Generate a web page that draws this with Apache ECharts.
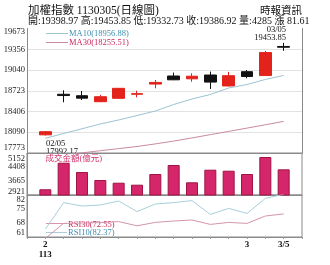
<!DOCTYPE html>
<html><head><meta charset="utf-8">
<script src="https://cdn.jsdelivr.net/npm/echarts@6/dist/echarts.min.js"></script>
<style>html,body{margin:0;padding:0;background:#fff}#c{width:330px;height:265px}</style>
</head><body><div id="c"></div>
<script>
// ---- data ----
const dates = ['02/05','02/15','02/16','02/19','02/20','02/21','02/22','02/23','02/26','02/27','02/29','03/01','03/04','03/05'];
const xTickLabels = ['2\n113','','','','','','','','','','','3','','3/5'];
const opens  = [18050, 18669, 18647, 18556, 18608, 18670, 18825, 18948, 18905, 18963, 18796, 19014, 18955, 19398.97];
const closes = [18098, 18650, 18610, 18632, 18760, 18678, 18850, 18890, 18945, 18855, 18953, 18940, 19305.31, 19386.92];
const lows   = [18040, 18547, 18582, 18550, 18600, 18623, 18760, 18885, 18861, 18750, 18790, 18913, 18950, 19332.73];
const highs  = [18105, 18730, 18719, 18660, 18765, 18724, 18887, 19000, 18990, 19015, 19012, 19040, 19330, 19453.85];
const ma10 = [17997, 18071, 18143, 18216, 18277, 18345, 18414, 18513, 18597, 18666, 18765, 18818, 18895, 18956.88];
const ma30 = [17710, 17742, 17775, 17808, 17840, 17872, 17912, 17955, 18003, 18053, 18103, 18153, 18204, 18255.51];
const volumes = [3224, 4636, 4142, 3718, 3574, 3468, 4036, 4514, 3595, 4265, 4211, 4036, 4939, 4285];
const rsi10 = [64.9, 78.2, 76.5, 77.0, 79.0, 73.7, 77.5, 78.2, 79.2, 72.3, 75.3, 72.8, 80.3, 82.37];
const rsi30 = [60.3, 67.8, 68.0, 68.2, 68.7, 66.6, 68.3, 69.0, 69.5, 67.3, 68.3, 67.8, 71.5, 72.55];
const priceTicks = [17773, 18090, 18406, 18723, 19040, 19356, 19673];
const volumeTicks = [2921, 3665, 4408, 5152];
const rsiTicks = [61, 68, 75, 82];
const minPoint = { date: '02/05', value: 17992.17 };
const maxPoint = { date: '03/05', value: 19453.85 };
const lastChange = 81.61;
const titleText = '加權指數 1130305(日線圖)';
const sourceText = '時報資訊';
const volumeLabel = '成交金額(億元)';

// ---- build ----
const SERIF = '"Liberation Serif","Noto Sans CJK TC",serif';
const pad = a => ['-', ...a, '-'];
const cats = pad(dates).map(d => d === '-' ? '' : d);
const xlab = pad(xTickLabels).map(d => d === '-' ? '' : d);
const candles = pad(dates.map((d, i) => [opens[i], closes[i], lows[i], highs[i]]));
candles[0] = ['-','-','-','-']; candles[candles.length-1] = ['-','-','-','-'];
const n = dates.length - 1;
const f2 = v => v.toFixed(2);
const infoText = '開:' + f2(opens[n]) + ' 高:' + f2(highs[n]) + ' 低:' + f2(lows[n]) + ' 收:' + f2(closes[n]) +
  ' 量:' + volumes[n] + ' 漲 ' + f2(lastChange);

const L = 27, R = 28;
const grids = [
  { left: L, right: R, top: 28.5, height: 124.5 },
  { left: L, right: R, top: 153, height: 42, show: true, borderColor: '#8a8a8a', borderWidth: 1 },
  { left: L, right: R, top: 195, height: 42, show: true, borderColor: '#8a8a8a', borderWidth: 1 }
];
function xAx(g, withLabels) {
  return {
    type: 'category', gridIndex: g, data: cats, boundaryGap: false,
    axisLine: { show: true, lineStyle: { color: '#8a8a8a', width: 1 } },
    axisTick: { show: withLabels, length: 2, lineStyle: { color: '#999' }, interval: 0 },
    axisLabel: withLabels ? {
      show: true, interval: 0, margin: 3, color: '#111', fontFamily: SERIF, fontSize: 9, fontWeight: 'bold', lineHeight: 10,
      formatter: (v, i) => xlab[i]
    } : { show: false },
    splitLine: { show: false }
  };
}
function yAx(g, ticks, padTop, padBot, opts) {
  const mn = ticks[0], mx = ticks[ticks.length - 1];
  const base = { fontFamily: SERIF, fontSize: 8.5, color: '#222' };
  return Object.assign({
    type: 'value', gridIndex: g, min: mn, max: mx, position: 'left',
    axisLine: { show: true, lineStyle: { color: '#8a8a8a', width: 1 } },
    axisTick: { show: false, customValues: ticks },
    axisLabel: {
      show: true, margin: 2, customValues: ticks, fontFamily: SERIF, fontSize: 8.5, color: '#222',
      formatter: v => {
        const s = String(Math.round(v));
        if (Math.abs(v - mx) < 1e-6) return '{hi|' + s + '}';
        if (Math.abs(v - mn) < 1e-6) return '{lo|' + s + '}';
        return s;
      },
      rich: {
        hi: Object.assign({ padding: [padTop, 0, 0, 0] }, base),
        lo: Object.assign({ padding: [0, 0, padBot, 0] }, base)
      }
    },
    splitLine: { show: false }
  }, opts || {});
}

const option = {
  animation: false,
  backgroundColor: '#fff',
  grid: grids,
  xAxis: [xAx(0, false), xAx(1, false), xAx(2, true)],
  yAxis: [
    yAx(0, priceTicks, 6.4, 11, { splitLine: { show: true, showMinLine: false, showMaxLine: false, lineStyle: { color: '#e2e2e2', width: 1 } } }),
    { type: 'value', gridIndex: 0, position: 'right', min: priceTicks[0], max: priceTicks[priceTicks.length-1],
      axisLine: { show: true, lineStyle: { color: '#8a8a8a', width: 1 } }, axisTick: { show: false },
      axisLabel: { show: false }, splitLine: { show: false } },
    yAx(1, volumeTicks, 10.6, 6.6),
    yAx(2, rsiTicks, 10, 8.6)
  ],
  series: [
    { type: 'candlestick', xAxisIndex: 0, yAxisIndex: 0, data: candles, barWidth: 12,
      itemStyle: { color: '#e3221b', color0: '#111111', borderColor: '#e3221b', borderColor0: '#111111', borderWidth: 1 } },
    { type: 'line', xAxisIndex: 0, yAxisIndex: 0, data: pad(ma10), symbol: 'none', clip: true,
      lineStyle: { color: '#9cc3d2', width: 1 } },
    { type: 'line', xAxisIndex: 0, yAxisIndex: 0, data: pad(ma30), symbol: 'none', clip: true,
      lineStyle: { color: '#c98aa2', width: 1 } },
    { type: 'bar', xAxisIndex: 1, yAxisIndex: 2, data: pad(volumes), barWidth: 12, clip: true,
      itemStyle: { color: '#d5266b', borderColor: '#9e1445', borderWidth: 1 } },
    { type: 'line', xAxisIndex: 2, yAxisIndex: 3, data: pad(rsi10), symbol: 'none', clip: true,
      lineStyle: { color: '#a6cfda', width: 1 } },
    { type: 'line', xAxisIndex: 2, yAxisIndex: 3, data: pad(rsi30), symbol: 'none', clip: true,
      lineStyle: { color: '#d495ad', width: 1 } }
  ],
  graphic: [
    { type: 'text', x: 28, y: 10.5, style: { text: titleText, fontFamily: SERIF, fontSize: 11.5, fill: '#111', verticalAlign: 'middle', textVerticalAlign: 'middle' } },
    { type: 'text', x: 302, y: 11, style: { text: sourceText, fontFamily: SERIF, fontSize: 10.5, fill: '#111', align: 'right', textAlign: 'right', verticalAlign: 'middle', textVerticalAlign: 'middle' } },
    { type: 'text', x: 28, y: 21.5, style: { text: infoText, fontFamily: SERIF, fontSize: 10, fill: '#111', verticalAlign: 'middle', textVerticalAlign: 'middle' } },
    { type: 'line', shape: { x1: 46, y1: 33.5, x2: 68, y2: 33.5 }, style: { stroke: '#9cc3d2', lineWidth: 1 } },
    { type: 'text', x: 69, y: 33.5, style: { text: 'MA10(' + f2(ma10[n]) + ')', fontFamily: SERIF, fontSize: 8.5, fill: '#3f8fb0', verticalAlign: 'middle', textVerticalAlign: 'middle' } },
    { type: 'line', shape: { x1: 46, y1: 42.5, x2: 68, y2: 42.5 }, style: { stroke: '#c98aa2', lineWidth: 1 } },
    { type: 'text', x: 69, y: 42.5, style: { text: 'MA30(' + f2(ma30[n]) + ')', fontFamily: SERIF, fontSize: 8.5, fill: '#c8285a', verticalAlign: 'middle', textVerticalAlign: 'middle' } },
    { type: 'text', x: 46, y: 143.5, style: { text: minPoint.date, fontFamily: SERIF, fontSize: 8.5, fill: '#111', verticalAlign: 'middle', textVerticalAlign: 'middle' } },
    { type: 'text', x: 46, y: 151.5, style: { text: f2(minPoint.value), fontFamily: SERIF, fontSize: 8.5, fill: '#111', verticalAlign: 'middle', textVerticalAlign: 'middle' } },
    { type: 'text', x: 286, y: 30, style: { text: maxPoint.date, fontFamily: SERIF, fontSize: 8.5, fill: '#111', align: 'right', textAlign: 'right', verticalAlign: 'middle', textVerticalAlign: 'middle' } },
    { type: 'text', x: 286, y: 37.5, style: { text: f2(maxPoint.value), fontFamily: SERIF, fontSize: 8.5, fill: '#111', align: 'right', textAlign: 'right', verticalAlign: 'middle', textVerticalAlign: 'middle' } },
    { type: 'text', x: 45.5, y: 158.5, style: { text: volumeLabel, fontFamily: SERIF, fontSize: 8.5, fill: '#d0306a', verticalAlign: 'middle', textVerticalAlign: 'middle' } },
    { type: 'line', shape: { x1: 46, y1: 223.5, x2: 67, y2: 223.5 }, style: { stroke: '#d495ad', lineWidth: 1 } },
    { type: 'text', x: 68, y: 224.5, style: { text: 'RSI30(' + f2(rsi30[n]) + ')', fontFamily: SERIF, fontSize: 8.5, fill: '#c8285a', verticalAlign: 'middle', textVerticalAlign: 'middle' } },
    { type: 'line', shape: { x1: 46, y1: 232.5, x2: 67, y2: 232.5 }, style: { stroke: '#a6cfda', lineWidth: 1 } },
    { type: 'text', x: 68, y: 233, style: { text: 'RSI10(' + f2(rsi10[n]) + ')', fontFamily: SERIF, fontSize: 8.5, fill: '#3f8fb0', verticalAlign: 'middle', textVerticalAlign: 'middle' } }
  ]
};
const chart = echarts.init(document.getElementById('c'), null, { renderer: 'canvas' });
chart.setOption(option);
</script>
</body></html>
